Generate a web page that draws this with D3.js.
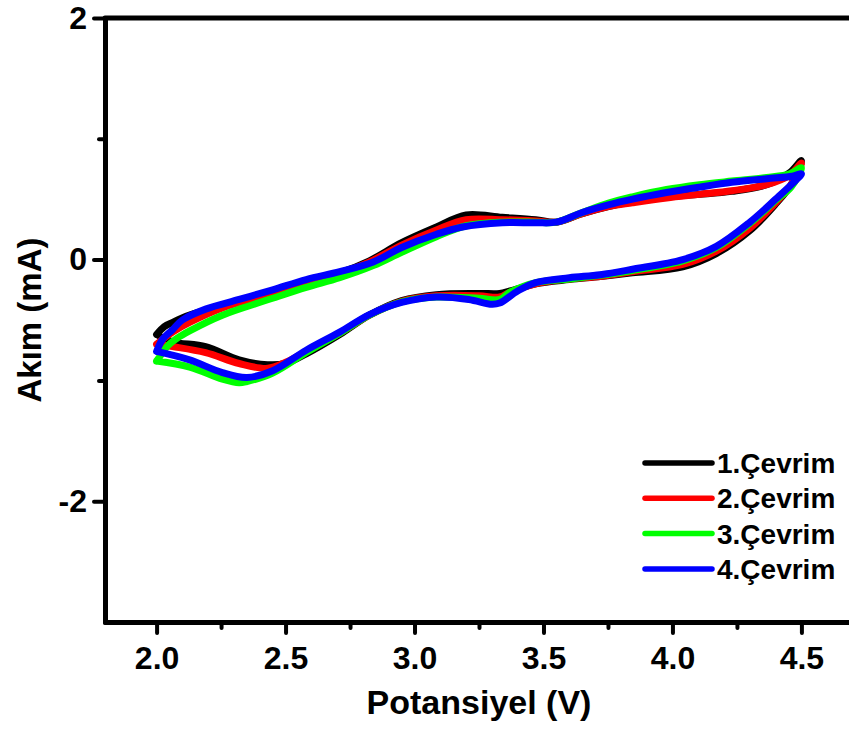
<!DOCTYPE html>
<html>
<head>
<meta charset="utf-8">
<script src="https://cdn.jsdelivr.net/npm/d3@7"></script>
<style>
  html, body { margin: 0; padding: 0; background: #fff; }
  svg { display: block; font-family: "Liberation Sans", Arial, sans-serif; }
</style>
</head>
<body>
<div id="chart"></div>
<script>
// ---------- data (V, mA) ----------
const seriesNames = ["1.Çevrim", "2.Çevrim", "3.Çevrim", "4.Çevrim"];
const seriesColors = ["#000000", "#ff0000", "#00ff00", "#0000ff"];

const cycle1 = [
  [2.0,-0.62],[2.03,-0.555],[2.062,-0.52],[2.128,-0.46],[2.255,-0.38],[2.45,-0.27],[2.58,-0.19],
  [2.71,-0.11],[2.825,-0.01],[2.95,0.14],[3.085,0.27],[3.20,0.37],[3.34,0.35],[3.47,0.33],
  [3.55,0.31],[3.65,0.38],[3.755,0.44],[3.845,0.48],[3.977,0.52],[4.105,0.54],[4.23,0.565],
  [4.365,0.62],[4.455,0.72],[4.5,0.82],
  [4.46,0.62],[4.40,0.46],[4.30,0.24],[4.17,0.05],[4.04,-0.06],[3.845,-0.11],[3.72,-0.14],
  [3.60,-0.165],[3.47,-0.20],[3.37,-0.26],[3.33,-0.28],[3.25,-0.28],[3.085,-0.29],[2.95,-0.34],
  [2.825,-0.46],[2.71,-0.62],[2.58,-0.78],[2.50,-0.86],[2.43,-0.87],[2.32,-0.83],[2.19,-0.72],
  [2.062,-0.68],[2.0,-0.62]
];
const cycle2 = [
  [2.0,-0.70],[2.062,-0.60],[2.128,-0.52],[2.255,-0.40],[2.45,-0.28],[2.58,-0.20],[2.71,-0.12],
  [2.825,-0.02],[2.95,0.12],[3.085,0.245],[3.20,0.33],[3.34,0.33],[3.47,0.32],[3.55,0.31],
  [3.65,0.38],[3.755,0.44],[3.845,0.47],[3.977,0.51],[4.105,0.54],[4.23,0.57],[4.365,0.62],
  [4.455,0.70],[4.5,0.80],
  [4.46,0.62],[4.40,0.47],[4.30,0.26],[4.17,0.07],[4.04,-0.04],[3.845,-0.10],[3.72,-0.14],
  [3.60,-0.16],[3.47,-0.20],[3.37,-0.27],[3.33,-0.31],[3.25,-0.30],[3.085,-0.30],[2.95,-0.345],
  [2.825,-0.46],[2.71,-0.61],[2.58,-0.76],[2.50,-0.85],[2.43,-0.90],[2.32,-0.86],[2.19,-0.77],
  [2.062,-0.72],[2.0,-0.70]
];
const cycle3 = [
  [2.0,-0.84],[2.02,-0.78],[2.04,-0.72],[2.08,-0.65],[2.128,-0.59],[2.255,-0.46],[2.45,-0.32],
  [2.58,-0.23],[2.71,-0.15],[2.84,-0.05],[2.95,0.06],[3.085,0.19],[3.20,0.28],[3.34,0.31],
  [3.47,0.31],[3.55,0.31],[3.65,0.39],[3.755,0.47],[3.845,0.52],[3.977,0.58],[4.105,0.62],
  [4.23,0.65],[4.365,0.68],[4.455,0.71],[4.5,0.76],
  [4.46,0.60],[4.40,0.49],[4.30,0.30],[4.17,0.10],[4.04,-0.01],[3.845,-0.09],[3.72,-0.13],
  [3.60,-0.16],[3.47,-0.19],[3.37,-0.27],[3.33,-0.33],[3.25,-0.32],[3.085,-0.31],[2.95,-0.35],
  [2.825,-0.46],[2.71,-0.61],[2.58,-0.77],[2.45,-0.94],[2.35,-1.01],[2.32,-1.02],[2.255,-0.99],
  [2.128,-0.89],[2.0,-0.84]
];
const cycle4 = [
  [2.0,-0.76],[2.023,-0.66],[2.062,-0.58],[2.10,-0.50],[2.19,-0.41],[2.32,-0.33],[2.45,-0.25],
  [2.58,-0.165],[2.71,-0.10],[2.84,-0.02],[2.95,0.10],[3.085,0.21],[3.186,0.27],[3.34,0.305],
  [3.47,0.305],[3.55,0.31],[3.65,0.39],[3.755,0.455],[3.845,0.50],[3.977,0.555],[4.105,0.60],
  [4.23,0.64],[4.365,0.67],[4.465,0.69],[4.5,0.71],
  [4.48,0.66],[4.40,0.50],[4.30,0.31],[4.17,0.11],[4.04,0.0],[3.845,-0.08],[3.72,-0.125],
  [3.60,-0.15],[3.47,-0.19],[3.40,-0.26],[3.33,-0.36],[3.30,-0.37],[3.21,-0.33],[3.085,-0.31],
  [2.95,-0.355],[2.825,-0.455],[2.71,-0.60],[2.58,-0.75],[2.45,-0.92],[2.35,-0.975],[2.255,-0.935],
  [2.128,-0.83],[2.0,-0.76]
];
const cycles = [cycle1, cycle2, cycle3, cycle4];

const xMajorTicks = [2.0, 2.5, 3.0, 3.5, 4.0, 4.5];
const xMinorTicks = [2.25, 2.75, 3.25, 3.75, 4.25];
const yMajorTicks = [-2, 0, 2];
const yMinorTicks = [-1, 1];
const xTitle = "Potansiyel (V)";
const yTitle = "Akım (mA)";

// ---------- layout ----------
const W = 849, H = 731;
const svg = d3.select("#chart").append("svg").attr("width", W).attr("height", H);

const x = d3.scaleLinear().domain([1.8, 4.7]).range([105, 853]);
const y = d3.scaleLinear().domain([-3, 2]).range([622, 18]);

// frame (top line; right edge falls outside the view)
svg.append("line")
  .attr("x1", x(1.8)).attr("x2", x(4.7)).attr("y1", y(2)).attr("y2", y(2))
  .attr("stroke", "#000").attr("stroke-width", 5).attr("stroke-linecap", "round");
svg.append("line")
  .attr("x1", x(4.7)).attr("x2", x(4.7)).attr("y1", y(2)).attr("y2", y(-3))
  .attr("stroke", "#000").attr("stroke-width", 5);

// curves
const line = d3.line()
  .x(d => x(d[0])).y(d => y(d[1]))
  .curve(d3.curveCatmullRom.alpha(0.5));

const plot = svg.append("g");
cycles.forEach((c, i) => {
  plot.append("path")
    .datum(c)
    .attr("d", line)
    .attr("fill", "none")
    .attr("stroke", seriesColors[i])
    .attr("stroke-width", 7)
    .attr("stroke-linejoin", "round")
    .attr("stroke-linecap", "round");
});

// axes
function styleAxis(g) {
  g.selectAll(".domain").attr("stroke", "#000").attr("stroke-width", 5).attr("stroke-linecap", "round");
  g.selectAll(".tick line").attr("stroke", "#000").attr("stroke-width", 4).attr("stroke-linecap", "round");
  g.selectAll("text").attr("fill", "#000").attr("font-weight", "bold");
}

const xAxis = svg.append("g").attr("transform", `translate(0,${y(-3)})`)
  .call(d3.axisBottom(x).tickValues(xMajorTicks).tickSize(11).tickSizeOuter(0)
        .tickPadding(13).tickFormat(d3.format(".1f")));
xAxis.selectAll("text").attr("font-size", 32);
styleAxis(xAxis);
svg.append("g").attr("transform", `translate(0,${y(-3)})`)
  .call(d3.axisBottom(x).tickValues(xMinorTicks).tickSize(6).tickFormat(""))
  .call(g => g.select(".domain").remove())
  .call(styleAxis);

const yAxis = svg.append("g").attr("transform", `translate(${x(1.8)},0)`)
  .call(d3.axisLeft(y).tickValues(yMajorTicks).tickSize(11).tickSizeOuter(0)
        .tickPadding(7).tickFormat(d => String(d)));
yAxis.selectAll("text").attr("font-size", 32);
styleAxis(yAxis);
svg.append("g").attr("transform", `translate(${x(1.8)},0)`)
  .call(d3.axisLeft(y).tickValues(yMinorTicks).tickSize(6).tickFormat(""))
  .call(g => g.select(".domain").remove())
  .call(styleAxis);

// axis titles
svg.append("text")
  .attr("x", 479).attr("y", 714)
  .attr("text-anchor", "middle")
  .attr("font-size", 34).attr("font-weight", "bold")
  .text(xTitle);
svg.append("text")
  .attr("transform", `translate(41,${(y(2) + y(-3)) / 2}) rotate(-90)`)
  .attr("text-anchor", "middle")
  .attr("font-size", 33).attr("font-weight", "bold")
  .text(yTitle);

// legend
const legend = svg.append("g");
seriesNames.forEach((name, i) => {
  const ly = 463 + i * 35.3;
  legend.append("line")
    .attr("x1", 645).attr("x2", 712).attr("y1", ly).attr("y2", ly)
    .attr("stroke", seriesColors[i]).attr("stroke-width", 5.5).attr("stroke-linecap", "round");
  legend.append("text")
    .attr("x", 717).attr("y", ly + 10)
    .attr("font-size", 28).attr("font-weight", "bold")
    .text(name);
});
</script>
</body>
</html>
